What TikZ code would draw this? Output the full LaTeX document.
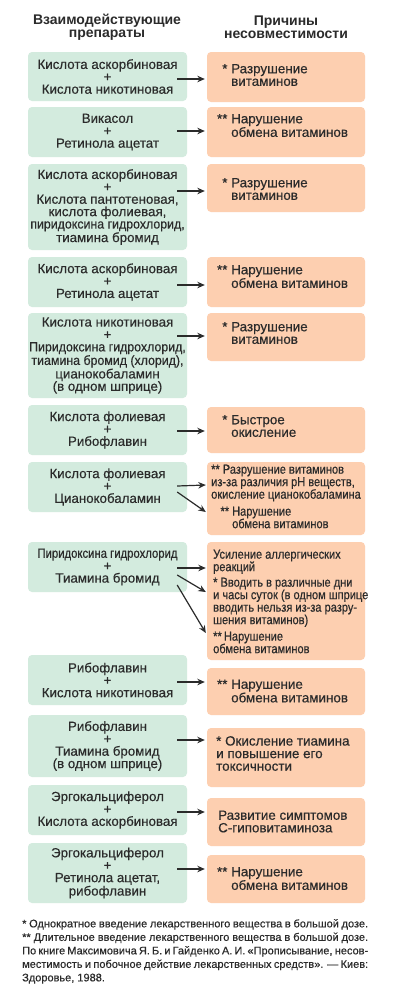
\documentclass[tikz,border=0pt]{standalone}
\usepackage{fontspec}
\setmainfont{Liberation Sans}[UprightFeatures={FakeBold=0.4}]
\newfontfamily\cond{Liberation Sans}[FakeStretch=0.85,UprightFeatures={FakeBold=0.4}]
\newfontfamily\semicond{Liberation Sans}[FakeStretch=0.93,UprightFeatures={FakeBold=0.4}]
\usetikzlibrary{arrows.meta,calc}
\definecolor{boxgreen}{HTML}{D3EBDE}
\definecolor{boxorange}{HTML}{FDCFB0}
\definecolor{ink}{HTML}{2B2B2B}
\begin{document}
\begin{tikzpicture}[x=1pt,y=-1pt,
  lbox/.style={fill=boxgreen, rounded corners=4pt, minimum width=159pt, inner sep=0pt, align=center, font=\fontsize{13.3}{12.4}\selectfont, text=ink},
  rbox/.style={fill=boxorange, rounded corners=4pt, minimum width=158pt, inner sep=0pt},
  rtext/.style={anchor=west, align=left, inner sep=0pt, font=\fontsize{13.4}{12.6}\selectfont, text=ink},
  ctext/.style={anchor=west, align=left, inner sep=0pt, font=\fontsize{13}{12.5}\selectfont\cond, text=ink},
  hdr/.style={align=center, inner sep=0pt, font=\fontsize{14}{13}\selectfont\bfseries, text=ink},
  arr/.style={-{Stealth[length=7.5pt,width=6.5pt]}, line width=1.2pt, draw=ink},
]
\useasboundingbox[fill=white] (0,0) rectangle (400,997);

\node[hdr] (h1) at (107,27.5) {Взаимодействующие\\препараты};
\node[hdr] (h2) at (286,27.5) {Причины\\несовместимости};

% left boxes
\node[lbox, minimum height=49pt] (l1) at (107.5,76.5) {Кислота аскорбиновая\\+\\Кислота никотиновая};
\node[lbox, minimum height=50pt] (l2) at (107.5,132) {Викасол\\+\\Ретинола ацетат};
\node[lbox, minimum height=86pt] (l3) at (107.5,207) {Кислота аскорбиновая\\+\\Кислота пантотеновая,\\кислота фолиевая,\\{\semicond пиридоксина гидрохлорид,}\\тиамина бромид};
\node[lbox, minimum height=50pt] (l4) at (107.5,282) {Кислота аскорбиновая\\+\\Ретинола ацетат};
\node[lbox, minimum height=85pt] (l5) at (107.5,355.5) {Кислота никотиновая\\+\\{\semicond Пиридоксина гидрохлорид,}\\{\semicond тиамина бромид (хлорид),}\\цианокобаламин\\(в одном шприце)};
\node[lbox, minimum height=50pt] (l6) at (107.5,430) {Кислота фолиевая\\+\\Рибофлавин};
\node[lbox, minimum height=50pt] (l7) at (107.5,487) {Кислота фолиевая\\+\\Цианокобаламин};
\node[lbox, minimum height=50pt] (l8) at (107.5,567) {{\cond Пиридоксина гидрохлорид}\\+\\Тиамина бромид};
\node[lbox, minimum height=50pt] (l9) at (107.5,680) {Рибофлавин\\+\\Кислота никотиновая};
\node[lbox, minimum height=62pt] (l10) at (107.5,746) {Рибофлавин\\+\\Тиамина бромид\\(в одном шприце)};
\node[lbox, minimum height=50pt] (l11) at (107.5,810) {Эргокальциферол\\+\\Кислота аскорбиновая};
\node[lbox, minimum height=60pt] (l12) at (107.5,873) {Эргокальциферол\\+\\Ретинола ацетат,\\рибофлавин};

% right boxes
\node[rbox, minimum height=50pt] (r1) at (286,77) {};
\node[rbox, minimum height=50pt] (r2) at (286,132) {};
\node[rbox, minimum height=48pt] (r3) at (286,188) {};
\node[rbox, minimum height=50pt] (r4) at (286,282) {};
\node[rbox, minimum height=48pt] (r5) at (286,337) {};
\node[rbox, minimum height=46pt] (r6) at (286,430) {};
\node[rbox, minimum height=73pt] (r7) at (286,498.5) {};
\node[rbox, minimum height=118pt] (r8) at (286,601) {};
\node[rbox, minimum height=47pt] (r9) at (286,691.5) {};
\node[rbox, minimum height=59pt] (r10) at (286,757.5) {};
\node[rbox, minimum height=48pt] (r11) at (286,822) {};
\node[rbox, minimum height=48pt] (r12) at (286,879) {};

% right texts
\node[rtext] (t1) at (231,75) {\llap{*\ }Разрушение\\витаминов};
\node[rtext] (t2) at (231,125.5) {\llap{**\ }Нарушение\\обмена витаминов};
\node[rtext] (t3) at (231,189) {\llap{*\ }Разрушение\\витаминов};
\node[rtext] (t4) at (231,276.5) {\llap{**\ }Нарушение\\обмена витаминов};
\node[rtext] (t5) at (231,333) {\llap{*\ }Разрушение\\витаминов};
\node[rtext] (t6) at (231,426) {\llap{*\ }Быстрое\\окисление};
\node[ctext] (t7a) at (211,483) {** Разрушение витаминов\\из-за различия pH веществ,\\окисление цианокобаламина};
\node[ctext] (t7b) at (232,517.5) {\llap{**\ }Нарушение\\обмена витаминов};
\node[ctext] (t8) at (213,601.5) {Усиление аллергических\\реакций\\[3pt]* Вводить в различные дни\\и часы суток (в одном шприце\\вводить нельзя из-за разру-\\шения витаминов)\\[4pt]**\,Нарушение\\обмена витаминов};
\node[rtext] (t9) at (231,691) {\llap{**\ }Нарушение\\обмена витаминов};
\node[rtext] (t10) at (216,753.5) {* Окисление тиамина\\и повышение его\\токсичности};
\node[rtext] (t11) at (218,821.5) {Развитие симптомов\\С-гиповитаминоза};
\node[rtext] (t12) at (231,878.5) {\llap{**\ }Нарушение\\обмена витаминов};

% arrows
\draw[arr] ($(l1.east)+(-10,2.5)$) -- ($(r1.west)+(-2,2)$);
\draw[arr] ($(l2.east)+(-10,-1)$) -- ($(r2.west)+(-2,-1)$);
\draw[arr] ($(l3.east)+(-10,-16)$) -- ($(r3.west)+(-2,3)$);
\draw[arr] ($(l4.east)+(-10,3)$) -- ($(r4.west)+(-2,3)$);
\draw[arr] ($(l5.east)+(-10,-19.5)$) -- ($(r5.west)+(-2,-1)$);
\draw[arr] ($(l6.east)+(-10,1)$) -- ($(r6.west)+(-2,1)$);
\draw[arr] ($(l7.east)+(-10,-1)$) -- ($(r7.west)+(-1,-13.5)$);
\draw[arr] ($(l7.east)+(-10,5)$) -- ($(r7.west)+(-1,13.5)$);
\draw[arr] ($(l8.east)+(-10,1)$) -- ($(r8.west)+(-1,-33)$);
\draw[arr] ($(l8.east)+(-10,8)$) -- ($(r8.west)+(-1,-9)$);
\draw[arr] ($(l8.east)+(-10,18)$) -- ($(r8.west)+(-1,32)$);
\draw[arr] ($(l9.east)+(-10,2)$) -- ($(r9.west)+(-2,-9.5)$);
\draw[arr] ($(l10.east)+(-10,-6)$) -- ($(r10.west)+(-2,-17.5)$);
\draw[arr] ($(l11.east)+(-10,2)$) -- ($(r11.west)+(-2,-10)$);
\draw[arr] ($(l12.east)+(-10,-4)$) -- ($(r12.west)+(-2,-10)$);

% footnotes
\node[anchor=north west, inner sep=0pt, text width=346pt, align=justify, font=\fontsize{11}{13.5}\selectfont, text=ink] (fn) at (22,919) {* Однократное введение лекарственного вещества в большой дозе.\\{}** Длительное введение лекарственного вещества в большой дозе.\\По книге Максимовича Я.~Б. и Гайденко А.~И. «Прописывание, несов-\linebreak местимость и побочное действие лекарственных средств». — Киев:\linebreak Здоровье, 1988.};
\end{tikzpicture}
\end{document}
